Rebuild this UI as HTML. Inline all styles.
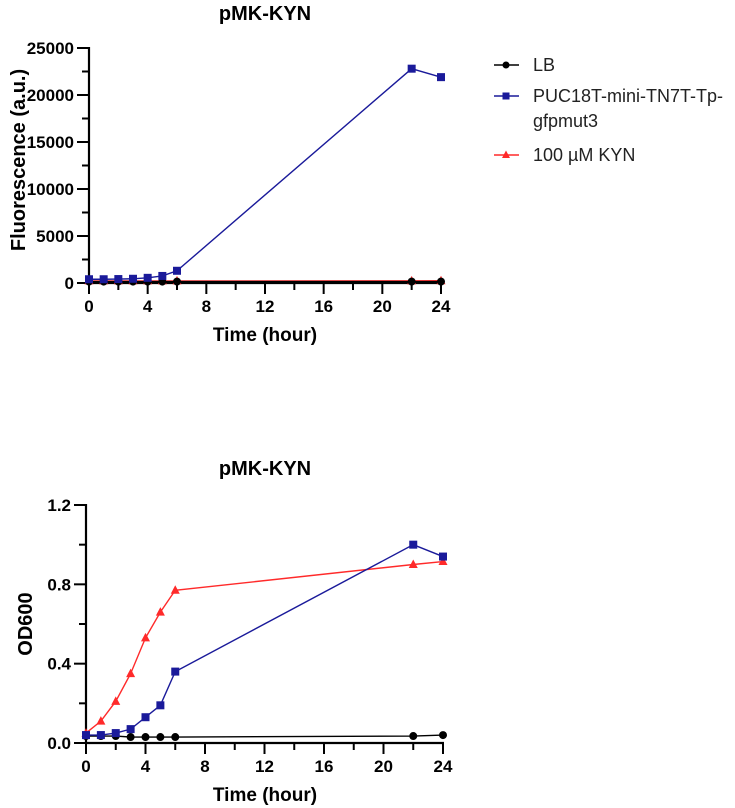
<!DOCTYPE html>
<html><head><meta charset="utf-8"><style>
html,body{margin:0;padding:0;background:#fff;width:735px;height:808px;overflow:hidden}
svg{font-family:"Liberation Sans",Arial,sans-serif}
</style></head><body>
<svg id="chart" width="735" height="808" viewBox="0 0 735 808" xmlns="http://www.w3.org/2000/svg"></svg>
<script>
const hours=[0,1,2,3,4,5,6,22,24];
const fluLB=[150,150,150,150,150,150,150,150,150];
const fluPUC=[400,400,420,450,550,750,1300,22800,21900];
const fluKYN=[220,220,220,220,220,220,220,230,240];
const odLB=[0.035,0.035,0.035,0.03,0.03,0.03,0.03,0.035,0.04];
const odPUC=[0.04,0.04,0.05,0.07,0.13,0.19,0.36,1.0,0.94];
const odKYN=[0.05,0.11,0.21,0.35,0.53,0.66,0.77,0.90,0.915];
const xTicks=[0,4,8,12,16,20,24];
const fluTicks=[0,5000,10000,15000,20000,25000];
const odTicks=[0,0.4,0.8,1.2];
const odTickLabels=["0.0","0.4","0.8","1.2"];
const svg=document.getElementById('chart');
const NS='http://www.w3.org/2000/svg';
function el(t,a,p){const e=document.createElementNS(NS,t);for(const k in a)e.setAttribute(k,a[k]);(p||svg).appendChild(e);return e;}
function panel(o){
  const g=el('g',{});
  
  
  const sx=v=>o.x0+(v-0)/(24)*(o.x1-o.x0);
  const sy=v=>o.y0-(v/o.ymax)*(o.y0-o.y1);
  const ya=el('line',{x1:o.ax,y1:o.y1-1,x2:o.ax,y2:o.y0+1,stroke:'#000','stroke-width':2.2},g);
  
  const xa=el('line',{x1:o.ax-1,y1:o.y0,x2:sx(24)+1,y2:o.y0,stroke:'#000','stroke-width':2.2},g);
  
  for(let h=0;h<=24;h+=2){const maj=h%4===0;
    el('line',{x1:sx(h),y1:o.y0,x2:sx(h),y2:o.y0+(maj?11:7),stroke:'#000','stroke-width':2},g);}
  xTicks.forEach(h=>{const t=el('text',{x:sx(h),y:o.y0+29,'text-anchor':'middle','font-size':17,'font-weight':'bold'},g);t.textContent=h;
    });
  o.ticks.forEach((v,i)=>{el('line',{x1:o.ax-12,y1:sy(v),x2:o.ax,y2:sy(v),stroke:'#000','stroke-width':2},g);
    const t=el('text',{x:o.ax-15,y:sy(v)+6,'text-anchor':'end','font-size':17,'font-weight':'bold'},g);t.textContent=o.labels[i];
    
    if(i<o.ticks.length-1){const m=(v+o.ticks[i+1])/2;el('line',{x1:o.ax-7,y1:sy(m),x2:o.ax,y2:sy(m),stroke:'#000','stroke-width':2},g);}
  });
  const tt=el('text',{x:o.titleX,y:o.titleY,'text-anchor':'middle','font-size':20,'font-weight':'bold'},g);tt.textContent='pMK-KYN';
  
  const xl=el('text',{x:o.titleX,y:o.y0+58,'text-anchor':'middle','font-size':19,'font-weight':'bold'},g);xl.textContent='Time (hour)';
  
  const yl=el('text',{x:0,y:0,'text-anchor':'middle','font-size':20,'font-weight':'bold',transform:`translate(${o.ylx},${o.yly}) rotate(-90)`},g);yl.textContent=o.ylabel;
  
  o.series.forEach(s=>{
    const pl=el('polyline',{points:hours.map((h,i)=>sx(h)+','+sy(s.v[i])).join(' '),fill:'none',stroke:s.c,'stroke-width':1.4},g);
    
    hours.forEach((h,i)=>{const x=sx(h),y=sy(s.v[i]);let m;
      if(s.m==='c')m=el('circle',{cx:x,cy:y,r:4,fill:s.c},g);
      else if(s.m==='s')m=el('rect',{x:x-4,y:y-4,width:8,height:8,fill:s.c},g);
      else m=el('polygon',{points:`${x},${y-5} ${x-4.5},${y+3.5} ${x+4.5},${y+3.5}`,fill:s.c},g);
      });
  });
}
panel({name:'fluorescence-panel',ax:89,x0:89,x1:441,y0:283,y1:48,ymax:25000,ticks:fluTicks,labels:fluTicks.map(String),ylabel:'Fluorescence (a.u.)',ylx:25,yly:160,titleX:265,titleY:20,
  series:[{n:'kyn',c:'#ff2a2a',m:'t',v:fluKYN},{n:'lb',c:'#000',m:'c',v:fluLB},{n:'puc',c:'#1a1a9a',m:'s',v:fluPUC}]});
panel({name:'od600-panel',ax:86,x0:86,x1:443,y0:743,y1:505,ymax:1.2,ticks:odTicks,labels:odTickLabels,ylabel:'OD600',ylx:32,yly:624,titleX:265,titleY:475,
  series:[{n:'kyn',c:'#ff2a2a',m:'t',v:odKYN},{n:'lb',c:'#000',m:'c',v:odLB},{n:'puc',c:'#1a1a9a',m:'s',v:odPUC}]});
const leg=el('g',{});

[[65,'#000','c',['LB']],[96,'#1a1a9a','s',['PUC18T-mini-TN7T-Tp-','gfpmut3']],[155,'#ff2a2a','t',['100 µM KYN']]].forEach(r=>{
  const [y,c,m,txt]=r;
  el('line',{x1:494,y1:y,x2:519,y2:y,stroke:c,'stroke-width':1.4},leg);
  if(m==='c')el('circle',{cx:506,cy:y,r:3.5,fill:c},leg);
  else if(m==='s')el('rect',{x:502.5,y:y-3.5,width:7,height:7,fill:c},leg);
  else el('polygon',{points:`506,${y-4.5} 502,${y+3} 510,${y+3}`,fill:c},leg);
  txt.forEach((t,i)=>{const e=el('text',{x:533,y:y+6+i*25,'font-size':18,fill:'#222'},leg);e.textContent=t;
    });
});
</script>
</body></html>
